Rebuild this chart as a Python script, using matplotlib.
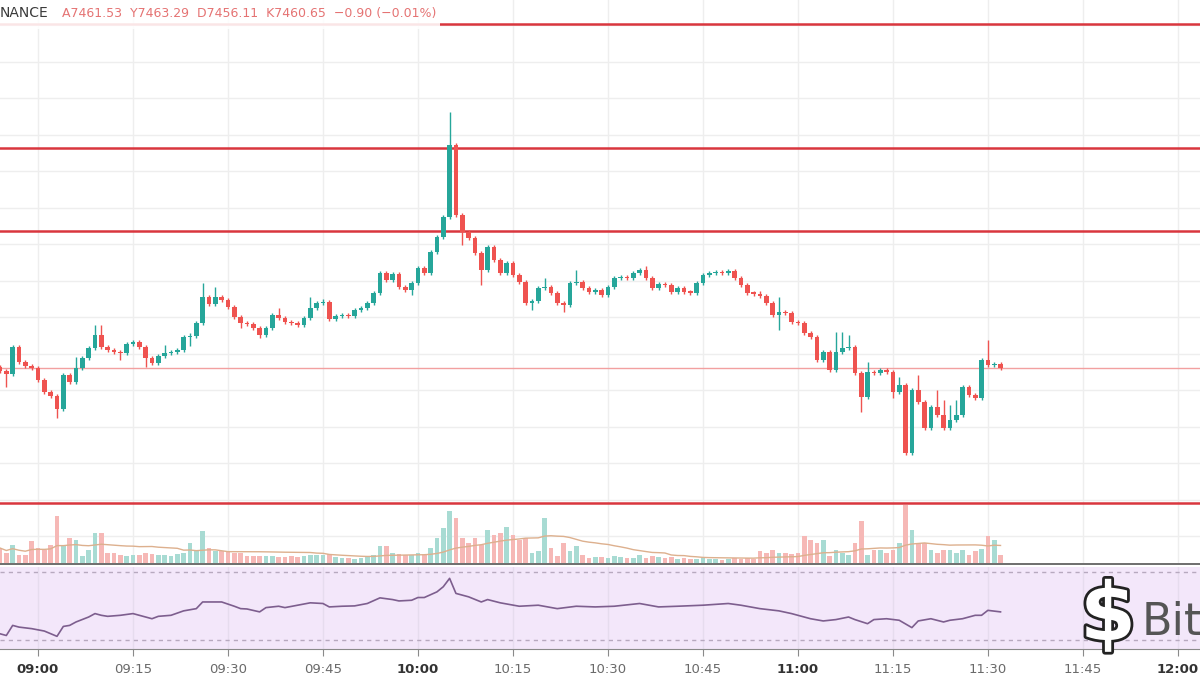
import numpy as np
import pandas as pd
import matplotlib
matplotlib.use("Agg")
import matplotlib.pyplot as plt
import matplotlib.patheffects as pe
from matplotlib.patches import Rectangle
from matplotlib.ticker import MultipleLocator

# ── Data (1-minute candles, minutes relative to 09:00) ───────────────────────
start_minute = -6
first_open = 7460.90

closes = [
    7459.90, 7459.15, 7465.90, 7462.15, 7461.15, 7460.65, 7457.65, 7454.65, 7453.65, 7450.40,  # -6..3
    7458.90, 7457.15, 7460.65, 7463.15, 7465.65, 7468.90, 7465.90, 7465.15, 7464.65, 7464.40,  # 4..13
    7466.65, 7467.15, 7465.90, 7463.15, 7461.90, 7463.65, 7464.40, 7464.65, 7465.15, 7468.40,  # 14..23
    7468.65, 7471.90, 7478.40, 7476.65, 7478.40, 7477.65, 7475.90, 7473.40, 7471.90, 7471.65,  # 24..33
    7470.65, 7468.90, 7470.65, 7473.90, 7473.15, 7472.15, 7471.90, 7471.40, 7473.15, 7475.65,  # 34..43
    7476.90, 7477.15, 7472.90, 7473.65, 7473.90, 7473.65, 7475.15, 7475.65, 7476.90, 7479.40,  # 44..53
    7484.40, 7482.65, 7484.15, 7480.90, 7480.15, 7481.90, 7485.65, 7484.40, 7489.65, 7493.40,  # 54..63
    7498.40, 7516.40, 7498.90, 7494.65, 7493.15, 7489.40, 7485.15, 7490.90, 7487.65, 7484.40,  # 64..73
    7486.90, 7483.90, 7482.15, 7476.90, 7477.40, 7480.65, 7480.90, 7479.40, 7476.90, 7476.40,  # 74..83
    7481.90, 7482.15, 7480.65, 7479.65, 7480.15, 7478.90, 7480.90, 7483.15, 7483.40, 7483.15,  # 84..93
    7484.40, 7485.15, 7483.15, 7480.65, 7481.65, 7481.40, 7479.65, 7480.65, 7479.65, 7479.50,  # 94..103
    7481.90, 7483.90, 7484.40, 7484.65, 7484.40, 7484.90, 7483.15, 7481.40, 7479.40, 7479.25,  # 104..113
    7478.65, 7476.90, 7473.90, 7474.65, 7474.40, 7472.15, 7471.90, 7469.40, 7468.40, 7462.65,  # 114..123
    7464.65, 7460.15, 7464.65, 7465.65, 7465.90, 7459.40, 7453.40, 7459.65, 7459.40, 7460.15,  # 124..133
    7459.65, 7454.65, 7456.40, 7439.40, 7455.15, 7452.15, 7445.65, 7450.90, 7448.90, 7445.65,  # 134..143
    7447.65, 7448.90, 7455.90, 7453.90, 7453.15, 7462.65, 7461.40, 7461.53, 7460.65,           # 144..152
]

# wicks that reach well past the body
wick_highs = {6: 7463.40, 9: 7471.40, 10: 7471.40, 20: 7466.40, 24: 7469.40, 26: 7481.90,
              28: 7480.90, 38: 7475.65, 43: 7478.40, 45: 7477.90, 65: 7524.65, 80: 7483.15,
              85: 7485.15, 96: 7486.15, 117: 7478.40, 126: 7469.65, 127: 7469.65, 128: 7468.90,
              131: 7462.15, 136: 7458.40, 139: 7458.90, 142: 7455.15, 143: 7452.65,
              144: 7451.40, 145: 7452.65, 150: 7467.65}
wick_lows = {-5: 7455.90, 3: 7448.15, 13: 7462.65, 17: 7460.90, 24: 7466.15, 32: 7470.65,
             35: 7468.15, 59: 7478.90, 67: 7491.40, 70: 7481.40, 78: 7475.15, 83: 7474.65,
             117: 7470.15, 130: 7449.65, 135: 7453.15}

volumes = [
    15, 10, 18, 8, 8, 22, 15, 13, 18, 47,
    17, 25, 23, 7, 13, 30, 30, 10, 10, 8,
    7, 8, 8, 10, 9, 8, 8, 7, 9, 10,
    20, 12, 32, 15, 12, 12, 12, 10, 10, 7,
    7, 7, 7, 7, 6, 6, 7, 6, 7, 8,
    8, 8, 9, 6, 5, 5, 4, 5, 6, 8,
    17, 17, 10, 9, 8, 8, 10, 8, 15, 25,
    35, 52, 45, 25, 20, 25, 18, 33, 28, 30,
    36,
    28, 23, 25, 10, 12, 45, 15, 7, 20,
    12, 17, 8, 5, 6, 6, 5, 7, 6, 5,
    5, 8, 5, 7, 6, 5, 6, 4, 5, 4,
    4, 5, 4, 4, 3, 4, 5, 4, 5, 4,
    12, 10, 13, 10, 10, 9, 10, 27, 23, 20,
    23, 7, 13, 10, 8, 20, 42, 8, 13, 13,
    10, 13, 20, 58, 33, 20, 20, 13, 10, 13,
    13, 10, 13, 8, 12, 14, 27, 23, 8,
]

rsi_minutes = [-6, -5, -4, -3, -1, 1, 3, 4, 5, 6,
               8, 9, 10, 11, 13, 15, 17, 18, 19, 21,
               23, 25, 26, 28, 29, 31, 32, 33, 35, 36,
               38, 39, 41, 43, 45, 46, 48, 50, 52, 54,
               56, 57, 59, 60, 61, 63, 64, 65, 66, 68,
               70, 71, 73, 76, 79, 82, 85, 88, 91, 95,
               98, 101, 105, 109, 111, 114, 117, 119, 122, 124,
               126, 128, 129, 131, 132, 134, 136, 138, 139, 141,
               143, 144, 146, 148, 149, 150, 152]
rsi_values = [33.9, 32.9, 38.8, 37.8, 36.9, 35.5, 32.4, 38.2, 38.8, 40.8,
              43.7, 45.7, 44.7, 44.1, 44.7, 45.7, 43.7, 42.7, 44.1, 44.7,
              47.3, 48.6, 52.5, 52.5, 52.5, 50.0, 48.6, 48.4, 46.7, 49.2,
              50.0, 49.2, 50.6, 52.0, 51.6, 49.6, 50.0, 50.2, 51.6, 54.9,
              53.9, 53.1, 53.5, 55.1, 55.1, 58.4, 61.4, 66.3, 57.5, 55.5,
              52.5, 53.9, 52.0, 50.0, 50.6, 48.6, 50.0, 49.6, 50.0, 51.6,
              49.6, 50.0, 50.6, 51.6, 50.6, 48.6, 47.3, 45.7, 42.7, 41.4,
              42.2, 43.7, 42.2, 39.8, 42.2, 42.7, 41.8, 37.5, 41.4, 42.7,
              40.8, 41.8, 42.7, 44.7, 44.7, 47.6, 46.7]

level_prices = [7546.65, 7515.65, 7494.90, 7426.90]
last_price = 7460.65

tick_minutes = list(range(0, 181, 15))
tick_labels = ["09:00", "09:15", "09:30", "09:45", "10:00", "10:15", "10:30",
               "10:45", "11:00", "11:15", "11:30", "11:45", "12:00"]

header_symbol = "NANCE"
header_quote = "A7461.53  Y7463.29  D7456.11  K7460.65  \u22120.90 (\u22120.01%)"

# ── Style ────────────────────────────────────────────────────────────────────
GREEN = "#26a69a"
RED = "#ef5350"
GRID = "#eeeeee"
W, H = 1200, 675
XLIM = (-6.0, 183.5)
PRICE_TOP = 7552.65
PRICE_BOT = PRICE_TOP - 563 / 4

fig = plt.figure(figsize=(12, 6.75), dpi=100)
fig.patch.set_facecolor("white")

ax = fig.add_axes([0, 1 - 563 / H, 1, 563 / H])
ax_vol = fig.add_axes([0, 1 - 563 / H, 1, 563 / H])
ax_rsi = fig.add_axes([0, 1 - 649 / H, 1, 82 / H])

# ── Candles ──────────────────────────────────────────────────────────────────
c = np.array(closes)
o = np.concatenate([[first_open], c[:-1]])
minutes = np.arange(start_minute, start_minute + len(c))
up = c >= o
body_lo = np.minimum(o, c)
body_hi = np.maximum(o, c)
hi = body_hi + 0.6
lo = body_lo - 0.6
for m, p in wick_highs.items():
    hi[m - start_minute] = p
for m, p in wick_lows.items():
    lo[m - start_minute] = p
colors = np.where(up, GREEN, RED)

ax.set_xlim(*XLIM)
ax.set_ylim(PRICE_BOT, PRICE_TOP)
ax.xaxis.set_major_locator(MultipleLocator(15))
ax.yaxis.set_major_locator(MultipleLocator(9.125))
ax.grid(True, color=GRID, lw=1)
ax.set_axisbelow(True)
ax.tick_params(left=False, bottom=False, labelleft=False, labelbottom=False)
for s in ax.spines.values():
    s.set_visible(False)

for lvl in level_prices:
    ax.axhline(lvl, color="#d9363e", lw=1.8, zorder=2)
ax.axhline(last_price, color="#f2a0a0", lw=1, zorder=2)

ax.vlines(minutes, lo, hi, colors=colors, lw=1, zorder=3)
ax.bar(minutes, np.maximum(body_hi - body_lo, 0.3), bottom=body_lo, width=0.74,
       color=colors, zorder=4)

# ── Volume overlay ───────────────────────────────────────────────────────────
vol = np.array(volumes)
ax_vol.patch.set_alpha(0)
ax_vol.set_xlim(*XLIM)
ax_vol.set_ylim(0, 563)
ax_vol.axis("off")
vcolors = np.where(up, "#a8dbd3", "#f6b8b6")
ax_vol.bar(minutes, vol, width=0.74, color=vcolors, zorder=1)
vma = pd.Series(vol).rolling(20, min_periods=1).mean()
ax_vol.plot(minutes, vma, color="#ddb08e", lw=1, zorder=2)

# ── RSI pane ─────────────────────────────────────────────────────────────────
ax_rsi.set_facecolor("#f3e7fa")
ax_rsi.set_xlim(*XLIM)
ax_rsi.set_ylim(30 - 8.5 / 1.7, 70 + 5 / 1.7)
ax_rsi.set_yticks([])
ax_rsi.grid(True, axis="x", color="#e6dcee", lw=1)
ax_rsi.set_axisbelow(True)
for lvl in (70, 30):
    ax_rsi.axhline(lvl, color="#b7a9bf", lw=1, ls=(0, (3, 3)))
ax_rsi.plot(rsi_minutes, rsi_values, color="#7d5e8e", lw=1.2, zorder=3)
for k in ("top", "left", "right"):
    ax_rsi.spines[k].set_visible(False)
ax_rsi.spines["bottom"].set_color("#8a8a8a")
ax_rsi.tick_params(axis="y", left=False, labelleft=False)
ax_rsi.tick_params(axis="x", direction="out", length=5, color="#8a8a8a", pad=5)
ax_rsi.set_xticks(tick_minutes)
ax_rsi.set_xticklabels(tick_labels)
for lab in ax_rsi.get_xticklabels():
    hour = lab.get_text().endswith(":00")
    lab.set_fontsize(9.5)
    lab.set_color("#333333" if hour else "#6a6a6a")
    lab.set_fontweight("bold" if hour else "normal")

# separator between price/volume and RSI
fig.add_artist(plt.Line2D([0, 1], [1 - 564 / H, 1 - 564 / H], color="#6e6e6e", lw=1.4))

# ── Header and watermark ─────────────────────────────────────────────────────
fig.add_artist(Rectangle((0, 1 - 29 / H), 440 / W, 29 / H, transform=fig.transFigure,
                         facecolor="white", alpha=0.88, edgecolor="none", zorder=5))
fig.text(0, 1 - 13 / H, header_symbol, fontsize=10, color="#3a3a3a", va="center",
         ha="left", zorder=6)
fig.text(62 / W, 1 - 13 / H, header_quote, fontsize=9, color="#e57373", va="center",
         ha="left", zorder=6)

fig.text(1108 / W, 1 - 618 / H, "$", fontsize=58, fontweight="bold", color="white",
         ha="center", va="center", zorder=6,
         path_effects=[pe.withStroke(linewidth=4, foreground="#222222")])
fig.text(1142 / W, 1 - 622 / H, "Bitc", fontsize=32, color="#555555",
         ha="left", va="center", zorder=6)

fig.savefig("out.png", dpi=100, facecolor="white")
